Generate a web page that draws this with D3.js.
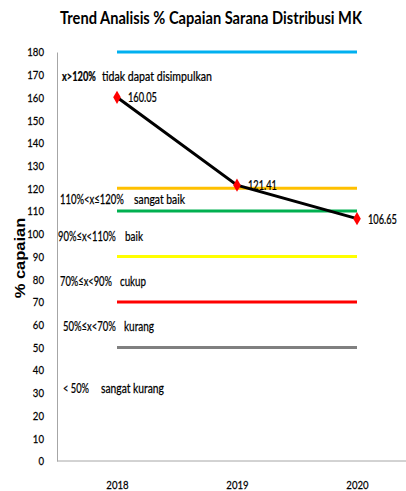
<!DOCTYPE html>
<html>
<head>
<meta charset="utf-8">
<script src="https://cdn.jsdelivr.net/npm/d3@7"></script>
<style>
  body { margin: 0; background: #fff; }
  text { font-family: Lato, "Liberation Sans", sans-serif; }
  .ink { stroke: #000; stroke-width: 0.25px; }
</style>
</head>
<body>
<div id="chart"></div>
<script>
const years = ['2018', '2019', '2020'];
const capaian = [160.05, 121.41, 106.65];
const yTicks = [0, 10, 20, 30, 40, 50, 60, 70, 80, 90, 100, 110, 120, 130, 140, 150, 160, 170, 180];
const thresholdValues = [180, 120, 110, 90, 70, 50];
const thresholdColors = ['#00b0f0', '#ffc000', '#00b050', '#ffff00', '#ff0000', '#808080'];
const rangeLabels = ['x>120%', '110%<x\u2264120%', '90%\u2264x<110%', '70%\u2264x<90%', '50%\u2264x<70%', '< 50%'];
const categoryLabels = ['tidak dapat disimpulkan', 'sangat baik', 'baik', 'cukup', 'kurang', 'sangat kurang'];
const labelLevels = [169.4, 114.9, 98.6, 78.8, 59.4, 32.1];

const width = 406, height = 491;
const margin = { top: 52, left: 57, bottom: 30 };

const svg = d3.select('#chart').append('svg')
  .attr('width', width)
  .attr('height', height);

const x = d3.scalePoint().domain(years).range([117, 357]);
const y = d3.scaleLinear().domain([0, 180]).range([461, 52]);

// squeeze text horizontally to look like the narrow office font
const squeeze = (sel, w) => sel.each(function () {
  const t = d3.select(this);
  const k = w / this.getComputedTextLength();
  const tx = +t.attr('x') || 0, ty = +t.attr('y') || 0;
  t.attr('x', 0).attr('y', 0).attr('transform', `translate(${tx},${ty}) scale(${k},1)`);
});

// title
svg.append('text')
  .attr('x', 211).attr('y', 24)
  .attr('text-anchor', 'middle')
  .style('font-size', '17px').style('font-weight', 'bold')
  .text('Trend Analisis % Capaian Sarana Distribusi MK')
  .call(squeeze, 302);

// y axis title
svg.append('text')
  .attr('transform', 'translate(25,258) rotate(-90) scale(1.1,1)')
  .attr('text-anchor', 'middle')
  .style('font-family', '"Liberation Sans", Arial, sans-serif')
  .style('font-size', '15px').style('font-weight', 'bold')
  .text('% capaian');

// axes
const yAxis = svg.append('g')
  .attr('transform', `translate(${margin.left},0)`)
  .call(d3.axisLeft(y).tickValues(yTicks).tickSize(0).tickPadding(13));
yAxis.select('.domain').attr('stroke', '#a6a6a6');
yAxis.selectAll('text').attr('class', 'ink').style('font-size', '12px').attr('fill', '#000')
  .attr('transform', 'scale(0.8,1)').attr('x', -13 / 0.8);

const xAxis = svg.append('g')
  .attr('transform', 'translate(0,461)')
  .call(d3.axisBottom(x).tickSize(0).tickPadding(19));
xAxis.select('.domain').attr('d', `M${margin.left},0H${width}`).attr('stroke', '#a6a6a6');
xAxis.selectAll('text').attr('class', 'ink').style('font-size', '12px').attr('fill', '#000')
  .attr('transform', 'scale(0.8,1)');

// threshold lines
svg.append('g').selectAll('line')
  .data(thresholdValues)
  .join('line')
  .attr('x1', x(years[0])).attr('x2', x(years[years.length - 1]))
  .attr('y1', d => y(d)).attr('y2', d => y(d))
  .attr('stroke', (d, i) => thresholdColors[i])
  .attr('stroke-width', 3);

// range annotations: [x of range, width, x of category, width]
const place = [[62, 34, 102, 110], [60, 64, 134, 51], [58, 58, 125, 18], [60, 52, 120, 26], [63, 53, 124, 30], [63, 26, 101, 63]];
const ann = svg.append('g');
rangeLabels.forEach((r, i) => {
  ann.append('text')
    .attr('class', 'ink')
    .attr('x', place[i][0]).attr('y', y(labelLevels[i]) + 4.5)
    .style('font-size', '13px').style('font-weight', i === 0 ? 'bold' : 'normal')
    .text(r)
    .call(squeeze, place[i][1]);
  ann.append('text')
    .attr('class', 'ink')
    .attr('x', place[i][2]).attr('y', y(labelLevels[i]) + 4.5)
    .style('font-size', '13px')
    .text(categoryLabels[i])
    .call(squeeze, place[i][3]);
});

// data line
const line = d3.line().x((d, i) => x(years[i])).y(d => y(d));
svg.append('path')
  .datum(capaian)
  .attr('d', line)
  .attr('fill', 'none')
  .attr('stroke', '#000')
  .attr('stroke-width', 3);

svg.append('g').selectAll('path')
  .data(capaian)
  .join('path')
  .attr('transform', (d, i) => `translate(${x(years[i])},${y(d)})`)
  .attr('d', d3.symbol(d3.symbolDiamond, 50))
  .attr('fill', '#ff0000');

svg.append('g').selectAll('text')
  .data(capaian)
  .join('text')
  .attr('class', 'ink')
  .attr('x', (d, i) => x(years[i]) + 11)
  .attr('y', d => y(d) + 5)
  .style('font-size', '13px')
  .text(d => d.toFixed(2))
  .call(squeeze, 29);
</script>
</body>
</html>
